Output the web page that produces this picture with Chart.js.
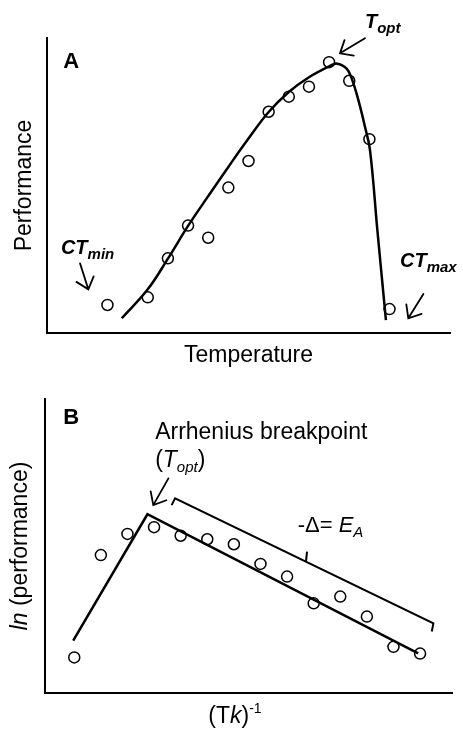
<!DOCTYPE html>
<html>
<head>
<meta charset="utf-8">
<script src="https://cdn.jsdelivr.net/npm/chart.js@4"></script>
<style>
  html, body { margin: 0; padding: 0; background: #fff; }
  canvas { position: absolute; left: 0; display: block; }
  #chartA { top: 0; }
  #chartB { top: 372px; }
</style>
</head>
<body>
<canvas id="chartA" width="463" height="372"></canvas>
<canvas id="chartB" width="463" height="357"></canvas>
<script>
// Panel A: performance vs temperature (observed points + fitted curve)
const tempX = [3, 5, 6, 7, 8, 9, 10, 11, 12, 13, 14, 15, 16, 17];
const perfY = [9.5, 12.1, 25.3, 36.4, 32.3, 49.3, 58.3, 75.0, 80.1, 83.5, 91.8, 85.5, 65.7, 8.1];
const curveX = [3.71, 5, 6, 7, 8, 9, 10, 11, 12, 13, 14, 14.4, 14.87, 15.12, 15.45, 15.78, 16.03, 16.4, 16.82];
const curveY = [5.0, 14.8, 25.2, 36.3, 46.4, 56.3, 65.9, 74.9, 81.7, 86.7, 90.4, 91.3, 89.6, 86.3, 79.0, 69.9, 62.0, 34.5, 4.4];

// Panel B: ln(performance) vs inverse temperature
const invX = [1, 2, 3, 4, 5, 6, 7, 8, 9, 10, 11, 12, 13, 14];
const lnPerfY = [12.1, 46.9, 54.1, 56.4, 53.5, 52.3, 50.6, 43.9, 39.6, 30.5, 32.8, 26.0, 15.7, 13.4];
const fitX = [0.96, 3.75, 13.93];
const fitY = [17.8, 60.8, 13.5];
const bracketX = [4.66, 4.79, 14.5, 14.44];
const bracketY = [63.9, 66.2, 23.7, 20.9];
const braceTickX = [9.71, 9.75];
const braceTickY = [44.7, 48.1];

const F = '"Liberation Sans", Arial, sans-serif';
const pts = (xs, ys) => xs.map((x, i) => ({x: x, y: ys[i]}));

// draws text runs (with sub/superscripts) and arrows at data coordinates
const notes = {
    id: 'notes',
    afterDraw(chart, args, opts) {
        const ctx = chart.ctx;
        const sx = chart.scales.x, sy = chart.scales.y;
        ctx.save();
        ctx.fillStyle = '#000';
        ctx.strokeStyle = '#000';
        (opts.texts || []).forEach(t => {
            ctx.save();
            ctx.translate(sx.getPixelForValue(t.x), sy.getPixelForValue(t.y));
            if (t.rotate) ctx.rotate(t.rotate);
            ctx.textAlign = 'left';
            ctx.textBaseline = 'alphabetic';
            let w = 0;
            t.runs.forEach(r => { ctx.font = r.font; w += ctx.measureText(r.text).width; });
            let cx = t.center ? -w / 2 : 0;
            t.runs.forEach(r => {
                ctx.font = r.font;
                ctx.fillText(r.text, cx, r.dy || 0);
                cx += ctx.measureText(r.text).width;
            });
            ctx.restore();
        });
        ctx.lineWidth = 1.8;
        ctx.lineCap = 'round';
        (opts.arrows || []).forEach(a => {
            const x1 = sx.getPixelForValue(a.from[0]), y1 = sy.getPixelForValue(a.from[1]);
            const x2 = sx.getPixelForValue(a.to[0]), y2 = sy.getPixelForValue(a.to[1]);
            const ang = Math.atan2(y2 - y1, x2 - x1);
            const h = 14, spread = 0.7;
            ctx.beginPath();
            ctx.moveTo(x1, y1);
            ctx.lineTo(x2, y2);
            ctx.moveTo(x2 - h * Math.cos(ang - spread), y2 - h * Math.sin(ang - spread));
            ctx.lineTo(x2, y2);
            ctx.lineTo(x2 - h * Math.cos(ang + spread), y2 - h * Math.sin(ang + spread));
            ctx.stroke();
        });
        ctx.restore();
    }
};

const axis = (min, max, title) => ({
    type: 'linear', min: min, max: max,
    ticks: {display: false},
    grid: {display: false, drawTicks: false},
    border: {display: true, color: '#000', width: 2},
    title: title
});

const circles = {
    showLine: false, pointRadius: 5.5, pointBorderWidth: 1.5,
    pointBorderColor: '#000', pointBackgroundColor: 'rgba(0,0,0,0)'
};
const line = {
    showLine: true, pointRadius: 0, borderColor: '#000', borderWidth: 2.5, fill: false
};

new Chart(document.getElementById('chartA'), {
    type: 'scatter',
    data: {
        datasets: [
            Object.assign({label: 'Fit', data: pts(curveX, curveY), tension: 0.4}, line),
            Object.assign({label: 'Observed', data: pts(tempX, perfY)}, circles)
        ]
    },
    options: {
        responsive: false,
        animation: false,
        layout: {padding: {top: 38, right: 13, bottom: 0, left: 0}},
        scales: {
            x: axis(0, 20, {display: true, text: 'Temperature', color: '#000',
                font: {family: F, size: 23, lineHeight: 1}, padding: {top: 11.5, bottom: 4.5}}),
            y: axis(0, 100, {display: true, text: 'Performance', color: '#000',
                font: {family: F, size: 23, lineHeight: 1}, padding: {top: 13, bottom: 11}})
        },
        plugins: {
            legend: {display: false},
            tooltip: {enabled: false},
            notes: {
                texts: [
                    {x: 0.81, y: 89.7, runs: [{text: 'A', font: 'bold 22px ' + F}]},
                    {x: 15.78, y: 103.3, runs: [
                        {text: 'T', font: 'bold italic 20px ' + F},
                        {text: 'opt', font: 'bold italic 15px ' + F, dy: 5}]},
                    {x: 0.69, y: 26.8, runs: [
                        {text: 'CT', font: 'bold italic 20px ' + F},
                        {text: 'min', font: 'bold italic 15px ' + F, dy: 5}]},
                    {x: 17.52, y: 22.3, runs: [
                        {text: 'CT', font: 'bold italic 20px ' + F},
                        {text: 'max', font: 'bold italic 15px ' + F, dy: 5}]}
                ],
                arrows: [
                    {from: [15.78, 99.9], to: [14.54, 94.8]},
                    {from: [1.64, 23.6], to: [2.05, 14.8]},
                    {from: [18.68, 13.2], to: [17.93, 5.0]}
                ]
            }
        }
    },
    plugins: [notes]
});

new Chart(document.getElementById('chartB'), {
    type: 'scatter',
    data: {
        datasets: [
            Object.assign({label: 'Arrhenius fit', data: pts(fitX, fitY)}, line),
            Object.assign({label: 'Bracket', data: pts(bracketX, bracketY)}, line, {borderWidth: 2}),
            Object.assign({label: 'Bracket tick', data: pts(braceTickX, braceTickY)}, line, {borderWidth: 2}),
            Object.assign({label: 'Observed', data: pts(invX, lnPerfY)}, circles)
        ]
    },
    options: {
        responsive: false,
        animation: false,
        layout: {padding: {top: 27, right: 11, bottom: 36, left: 45}},
        scales: {
            x: axis(-0.1, 15.2, {display: false}),
            y: axis(0, 100, {display: false})
        },
        plugins: {
            legend: {display: false},
            tooltip: {enabled: false},
            notes: {
                texts: [
                    {x: 0.59, y: 91.5, runs: [{text: 'B', font: 'bold 22px ' + F}]},
                    {x: 4.04, y: 86.3, runs: [{text: 'Arrhenius breakpoint', font: '23px ' + F}]},
                    {x: 4.04, y: 76.9, runs: [
                        {text: '(', font: '23px ' + F},
                        {text: 'T', font: 'italic 23px ' + F},
                        {text: 'opt', font: 'italic 15px ' + F, dy: 5},
                        {text: ')', font: '23px ' + F}]},
                    {x: 9.4, y: 54.9, runs: [
                        {text: '-\u0394= ', font: '22px ' + F},
                        {text: 'E', font: 'italic 22px ' + F},
                        {text: 'A', font: 'italic 15px ' + F, dy: 5}]},
                    {x: 7.04, y: -10.2, center: true, runs: [
                        {text: '(T', font: '23px ' + F},
                        {text: 'k', font: 'italic 23px ' + F},
                        {text: ')', font: '23px ' + F},
                        {text: '-1', font: '14px ' + F, dy: -10}]},
                    {x: -0.78, y: 50, center: true, rotate: -Math.PI / 2, runs: [
                        {text: 'ln', font: 'italic 23px ' + F},
                        {text: ' (performance)', font: '23px ' + F}]}
                ],
                arrows: [
                    {from: [4.54, 73.0], to: [3.97, 63.9]}
                ]
            }
        }
    },
    plugins: [notes]
});
</script>
</body>
</html>
